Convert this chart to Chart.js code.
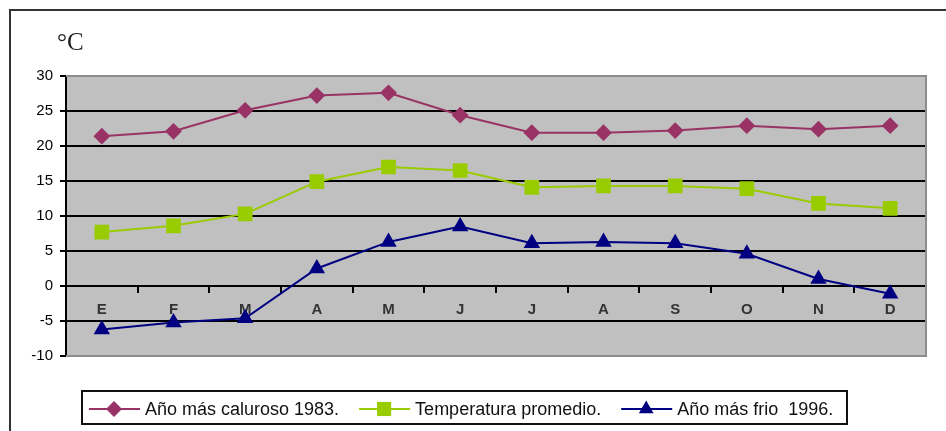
<!DOCTYPE html>
<html>
<head>
<meta charset="utf-8">
<script src="https://cdn.jsdelivr.net/npm/chart.js@4/dist/chart.umd.min.js"></script>
<style>
  html, body { margin: 0; padding: 0; background: #fff; }
  #wrap { position: relative; width: 946px; height: 431px; }
</style>
</head>
<body>
<div id="wrap"><canvas id="chart" width="946" height="431"></canvas></div>
<script>
// Monthly temperatures (°C)
const months = ['E', 'F', 'M', 'A', 'M', 'J', 'J', 'A', 'S', 'O', 'N', 'D'];
const hottest1983 = [21.4, 22.1, 25.1, 27.2, 27.6, 24.4, 21.9, 21.9, 22.2, 22.9, 22.4, 22.9];
const averageTemp = [7.7, 8.6, 10.3, 14.9, 17.0, 16.5, 14.1, 14.3, 14.3, 13.9, 11.8, 11.1];
const coldest1996 = [-6.2, -5.2, -4.6, 2.5, 6.3, 8.5, 6.1, 6.3, 6.1, 4.6, 1.0, -1.1];
const seriesNames = ['Año más caluroso 1983.', 'Temperatura promedio.', 'Año más frio  1996.'];
const yTicks = [-10, -5, 0, 5, 10, 15, 20, 25, 30];
const unitLabel = '°C';

const SANS = '"Liberation Sans", Arial, sans-serif';

function marker(ctx, style, x, y, r, color) {
  ctx.save();
  ctx.fillStyle = color;
  ctx.beginPath();
  if (style === 'rectRot') {
    ctx.moveTo(x, y - r); ctx.lineTo(x + r, y); ctx.lineTo(x, y + r); ctx.lineTo(x - r, y);
  } else if (style === 'rect') {
    const s = r * Math.SQRT1_2;
    ctx.rect(x - s, y - s, 2 * s, 2 * s);
  } else {
    const h = r * Math.sqrt(3) / 2;
    ctx.moveTo(x, y - r); ctx.lineTo(x + h, y + r / 2); ctx.lineTo(x - h, y + r / 2);
  }
  ctx.closePath();
  ctx.fill();
  ctx.restore();
}

// plot background, frame, unit label and boxed legend
const decor = {
  id: 'decor',
  beforeDraw(chart) {
    const { ctx, chartArea: a } = chart;
    ctx.save();
    ctx.fillStyle = '#C0C0C0';
    ctx.fillRect(a.left, a.top, a.right - a.left, a.bottom - a.top);
    ctx.restore();
  },
  beforeDatasetsDraw(chart) {
    const { ctx, chartArea: a } = chart;
    ctx.save();
    ctx.strokeStyle = '#8C8C8C';
    ctx.lineWidth = 2;
    ctx.beginPath();
    ctx.moveTo(a.left, a.top); ctx.lineTo(a.right, a.top);
    ctx.lineTo(a.right, a.bottom); ctx.lineTo(a.left, a.bottom);
    ctx.stroke();
    ctx.restore();
  },
  afterDraw(chart) {
    const { ctx } = chart;
    ctx.save();
    // outer frame
    ctx.strokeStyle = '#333';
    ctx.lineWidth = 2;
    ctx.beginPath();
    ctx.moveTo(10, 431); ctx.lineTo(10, 10); ctx.lineTo(946, 10);
    ctx.stroke();

    // unit label
    ctx.fillStyle = '#222';
    ctx.font = '25px "Liberation Serif", "Times New Roman", serif';
    ctx.textBaseline = 'middle';
    ctx.fillText(unitLabel, 57, 43);

    // legend
    ctx.strokeStyle = '#111';
    ctx.lineWidth = 2;
    ctx.strokeRect(82, 391, 765, 33);
    ctx.font = '18px ' + SANS;
    ctx.textBaseline = 'middle';
    const cy = 409;
    let x = 89;
    chart.data.datasets.forEach((ds) => {
      ctx.strokeStyle = ds.borderColor;
      ctx.lineWidth = 2;
      ctx.beginPath();
      ctx.moveTo(x, cy); ctx.lineTo(x + 51, cy);
      ctx.stroke();
      marker(ctx, ds.pointStyle, x + 25, cy, ds.pointRadius + 1, ds.pointBackgroundColor);
      ctx.fillStyle = '#111';
      ctx.fillText(ds.label, x + 56, cy + 1);
      x += 56 + ctx.measureText(ds.label).width + 20;
    });
    ctx.restore();
  }
};

const chart = new Chart(document.getElementById('chart'), {
  type: 'line',
  data: {
    labels: months,
    datasets: [
      { label: seriesNames[0], data: hottest1983, borderColor: '#993366', pointBackgroundColor: '#993366',
        pointBorderColor: '#993366', pointStyle: 'rectRot', pointRadius: 7, borderWidth: 2 },
      { label: seriesNames[1], data: averageTemp, borderColor: '#99CC00', pointBackgroundColor: '#99CC00',
        pointBorderColor: '#99CC00', pointStyle: 'rect', pointRadius: 9, borderWidth: 2 },
      { label: seriesNames[2], data: coldest1996, borderColor: '#000080', pointBackgroundColor: '#000080',
        pointBorderColor: '#000080', pointStyle: 'triangle', pointRadius: 7.5, borderWidth: 2 }
    ]
  },
  options: {
    responsive: false,
    animation: false,
    events: [],
    layout: { padding: { top: 76, right: 20, bottom: 75, left: 0 } },
    elements: { line: { tension: 0 }, point: { borderWidth: 0 } },
    plugins: { legend: { display: false }, tooltip: { enabled: false } },
    scales: {
      x: {
        type: 'category',
        offset: true,
        position: { y: 0 },
        grid: { drawOnChartArea: false, offset: true, tickLength: 6, color: '#000', lineWidth: 2 },
        border: { display: true, color: '#000', width: 2 },
        ticks: { color: '#333', padding: 9, font: { family: SANS, size: 15, weight: 'bold' }, maxRotation: 0, autoSkip: false }
      },
      y: {
        min: -10,
        max: 30,
        afterFit(scale) { scale.width = 66; },
        afterBuildTicks(scale) { scale.ticks = yTicks.map(v => ({ value: v })); },
        grid: {
          color: (c) => (c.tick && (c.tick.value === 30 || c.tick.value === -10)) ? 'rgba(0,0,0,0)' : '#000',
          lineWidth: 2,
          tickColor: '#000',
          tickWidth: 2,
          tickLength: 6
        },
        border: { display: true, color: '#000', width: 2 },
        ticks: { color: '#000', padding: 7, font: { family: SANS, size: 15 } }
      }
    }
  },
  plugins: [decor]
});
</script>
</body>
</html>
